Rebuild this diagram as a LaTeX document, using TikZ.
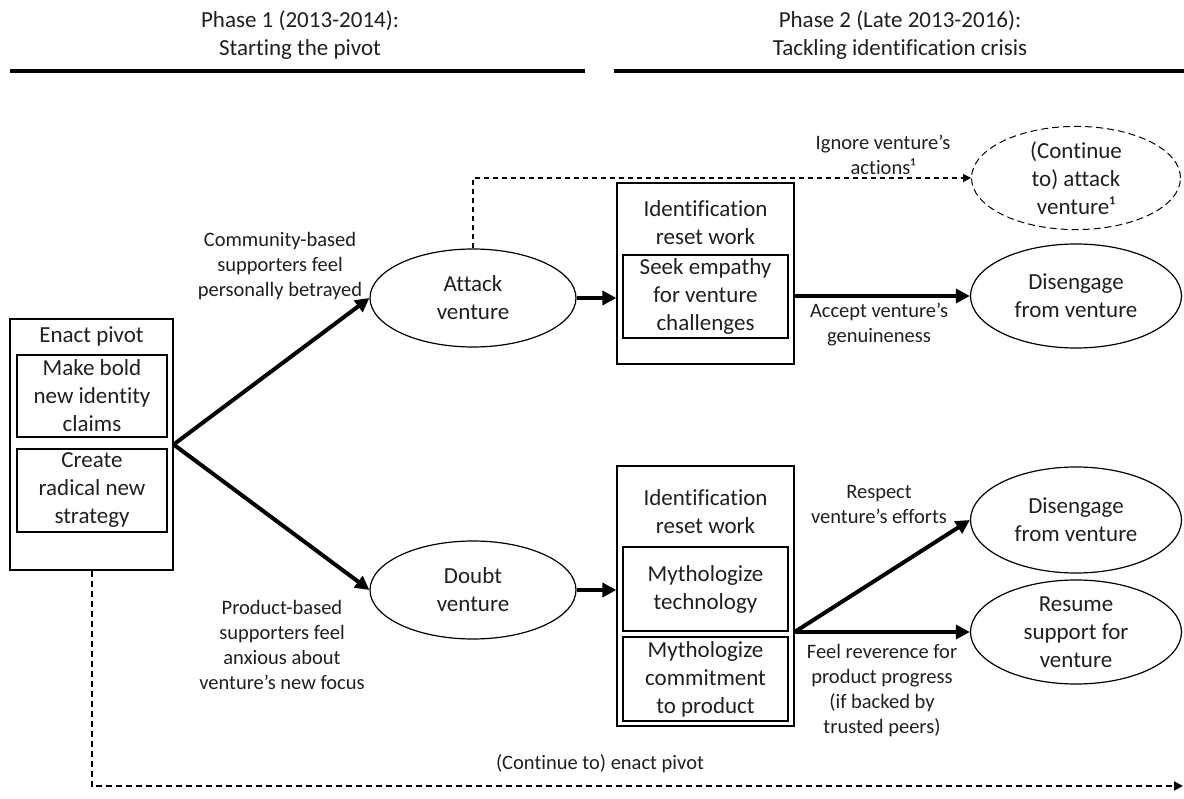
\documentclass[tikz,border=0pt]{standalone}
\usepackage{fontspec}
\setmainfont{Carlito}[Ligatures={NoCommon}]
\usetikzlibrary{shapes.geometric,arrows.meta}
\begin{document}
\begin{tikzpicture}[x=1pt,y=-1pt,
  every node/.style={text=black!88},
  box/.style={draw,line width=1.2pt,rectangle,inner sep=0pt},
  big/.style={font=\fontsize{23}{28}\selectfont,align=center,inner sep=0pt},
  lab/.style={font=\fontsize{20.5}{25}\selectfont,align=center,inner sep=0pt},
  ell/.style={draw,line width=1.2pt,ellipse,inner sep=0pt,minimum width=206pt,minimum height=98pt,font=\fontsize{23}{28}\selectfont,align=center},
  thickarrow/.style={line width=4pt,-{Triangle[length=14pt,width=14pt]}},
  dasharrow/.style={line width=1.1pt,dash pattern=on 5pt off 4pt,-{Triangle[length=8pt,width=8pt]}},
  pivotarrow/.style={line width=2pt,dash pattern=on 6pt off 4pt,-{Triangle[length=9pt,width=9pt]}},
  phaseline/.style={line width=4pt}
]
\useasboundingbox (0,0) rectangle (1184,799);

% headers
\node[big] (ph1) at (300,35) {Phase 1 (2013-2014):\\Starting the pivot};
\node[big] (ph2) at (900,35) {Phase 2 (Late 2013-2016):\\Tackling identification crisis};
\draw[phaseline] (10,71) -- (585,71);
\draw[phaseline] (614,71) -- (1184,71);

% enact pivot
\node[box,minimum width=163pt,minimum height=251pt] (enact) at (91.5,444.5) {};
\node[big] (enactt) at (91.5,336) {Enact pivot};
\node[box,big,minimum width=150pt,minimum height=82pt] (bold) at (92,396) {Make bold\\new identity\\claims};
\node[box,big,minimum width=150pt,minimum height=83pt] (radical) at (92,490.5) {Create\\radical new\\strategy};

% ellipses
\node[ell] (attack) at (473,298) {Attack\\venture};
\node[ell] (doubt) at (473,590) {Doubt\\venture};
\node[ell,dash pattern=on 7pt off 4pt,line width=1pt,minimum width=209pt,minimum height=99pt] (cont) at (1076,178) {(Continue\\to) attack\\venture¹};
\node[ell,minimum width=211pt,minimum height=104pt] (dis1) at (1076,296) {Disengage\\from venture};
\node[ell,minimum width=211pt,minimum height=106pt] (dis2) at (1076,520) {Disengage\\from venture};
\node[ell,minimum width=211pt,minimum height=104pt] (resume) at (1076,632) {Resume\\support for\\venture};

% identification reset work boxes
\node[box,minimum width=177pt,minimum height=181pt] (irw1) at (705.5,273.5) {};
\node[big] (irw1t) at (705.5,223) {Identification\\reset work};
\node[box,big,minimum width=165pt,minimum height=83pt] (empathy) at (705.5,296.5) {Seek empathy\\for venture\\challenges};

\node[box,minimum width=177pt,minimum height=260pt] (irw2) at (705.5,596) {};
\node[big] (irw2t) at (705.5,512) {Identification\\reset work};
\node[box,big,minimum width=165pt,minimum height=84pt] (mtech) at (705.5,589) {Mythologize\\technology};
\node[box,big,minimum width=165pt,minimum height=84pt] (mcomm) at (705.5,679) {Mythologize\\commitment\\to product};

% labels
\node[lab] (comm) at (280,266) {Community-based\\supporters feel\\personally betrayed};
\node[lab] (prod) at (282,645) {Product-based\\supporters feel\\anxious about\\venture’s new focus};
\node[lab] (ignore) at (883,155) {Ignore venture’s\\actions¹};
\node[lab] (accept) at (879,325) {Accept venture’s\\genuineness};
\node[lab] (respect) at (879,504) {Respect\\venture’s efforts};
\node[lab] (feel) at (882,691) {Feel reverence for\\product progress\\(if backed by\\trusted peers)};
\node[lab] (cpivot) at (600,764) {(Continue to) enact pivot};

% connectors
\draw[thickarrow] (enact.east) -- (attack.west);
\draw[thickarrow] (enact.east) -- (doubt.west);
\draw[thickarrow] (attack.east) -- (attack.east -| irw1.west);
\draw[thickarrow] (doubt.east) -- (doubt.east -| irw2.west);
\draw[dasharrow] (attack.north) |- (cont.west);
\draw[thickarrow] (irw1.east |- dis1.west) -- (dis1.west);
\coordinate (split) at (irw2.east |- resume.west);
\draw[thickarrow] (split) -- (dis2.west);
\draw[thickarrow] (split) -- (resume.west);
\coordinate (pend) at (1183,786);
\draw[pivotarrow] (enact.south) |- (pend);
\end{tikzpicture}
\end{document}
